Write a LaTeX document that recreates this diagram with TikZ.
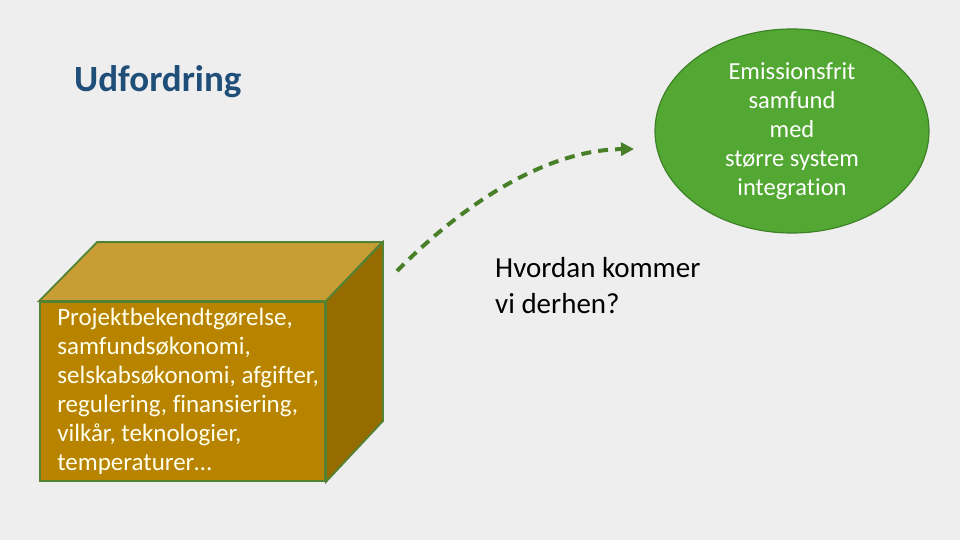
\documentclass[tikz,border=0pt]{standalone}
\usepackage{fontspec}
\setmainfont{Carlito}[Ligatures={NoCommon}]
\frenchspacing
\usetikzlibrary{shapes.geometric,arrows.meta}
\definecolor{bg}{RGB}{238,238,238}
\definecolor{titleblue}{RGB}{31,78,121}
\definecolor{frontc}{RGB}{184,132,0}
\definecolor{topc}{RGB}{200,158,52}
\definecolor{sidec}{RGB}{150,108,0}
\definecolor{edgegreen}{RGB}{84,130,53}
\definecolor{ellfill}{RGB}{82,168,50}
\definecolor{elledge}{RGB}{62,130,40}
\definecolor{arrowgreen}{RGB}{72,128,40}
\definecolor{cubetext}{RGB}{255,255,235}
\tikzset{
  face/.style={draw=edgegreen, line width=1.8pt, line join=miter},
  goalnode/.style={ellipse, draw=elledge, line width=1.2pt, fill=ellfill, minimum width=274pt, minimum height=204pt, inner sep=0pt, text=white, align=center, font=\fontsize{24.5}{29}\selectfont\frenchspacing},
  frontnode/.style={rectangle, face, fill=frontc, minimum width=285pt, minimum height=179pt, inner sep=0pt},
  cubetextnode/.style={inner sep=0pt, text=cubetext, align=left, font=\fontsize{25}{29}\selectfont\frenchspacing},
  pathline/.style={draw=arrowgreen, line width=4pt, dash pattern=on 10pt off 7pt, -{Triangle[length=13pt,width=13pt]}},
  plaintext/.style={inner sep=0pt, align=left, font=\fontsize{29}{36}\selectfont\frenchspacing},
  titletext/.style={inner sep=0pt, text=titleblue, font=\fontsize{37}{40}\selectfont\bfseries}
}
\begin{document}
\begin{tikzpicture}[x=1pt,y=-1pt]
\useasboundingbox[fill=bg] (0,0) rectangle (960,540);
\node[titletext, anchor=west] (title) at (74,82) {Udfordring};
% cube
\node[frontnode] (front) at (182.5,391.5) {};
\filldraw[face, fill=topc] (front.north west) -- ++(58,-59) -- ++(285,0) -- (front.north east) -- cycle;
\filldraw[face, fill=sidec] (front.north east) -- ++(57,-59) -- ++(0,179) -- (front.south east) -- cycle;
\node[cubetextnode, anchor=west] (cubelabel) at ([xshift=18pt]front.west) {Projektbekendtgørelse,\\samfundsøkonomi,\\selskabsøkonomi, afgifter,\\regulering, finansiering,\\vilkår, teknologier,\\temperaturer…};
% goal
\node[goalnode] (goal) at (792,131) {Emissionsfrit\\samfund\\med\\større system\\integration};
% question
\node[plaintext, anchor=north west] (question) at (495,257) {Hvordan kommer\\vi derhen?};
% arrow
\coordinate (start) at (397,271);
\coordinate (finish) at (634,149);
\draw[pathline] (start) .. controls (455,212) and (540,150) .. (finish);
\end{tikzpicture}
\end{document}
